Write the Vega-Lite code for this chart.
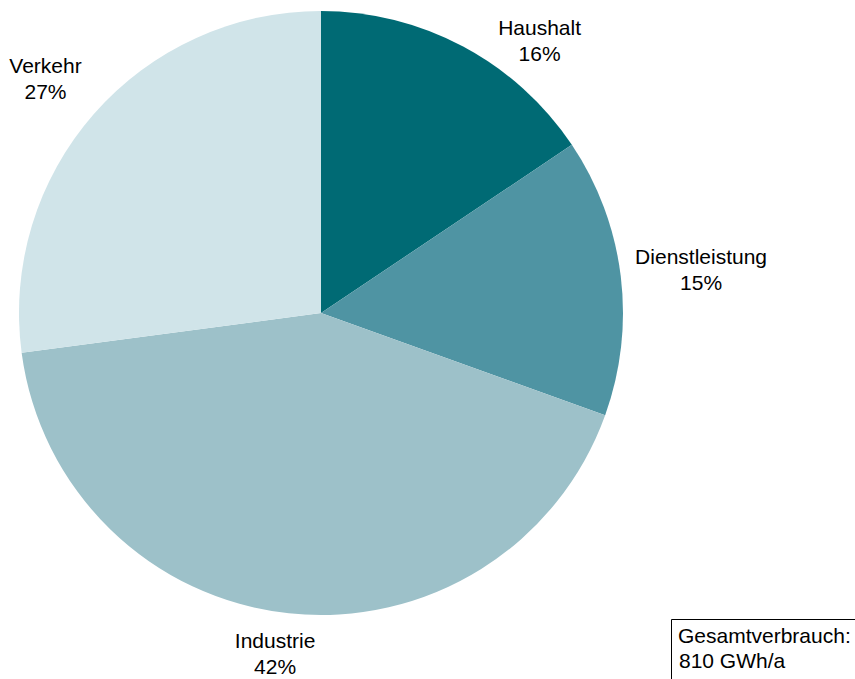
{
  "$schema": "https://vega.github.io/schema/vega-lite/v6.json",
  "width": 642,
  "height": 626,
  "autosize": "none",
  "padding": {"left": 0, "top": 0, "right": 213, "bottom": 53},
  "background": "white",
  "config": {"view": {"stroke": null}, "text": {"font": "Liberation Sans"}},
  "data": {
    "values": [
      {"category": "Haushalt", "value": 15.6, "order": 1},
      {"category": "Dienstleistung", "value": 14.9, "order": 2},
      {"category": "Industrie", "value": 42.4, "order": 3},
      {"category": "Verkehr", "value": 27.1, "order": 4}
    ]
  },
  "transform": [
    {"calculate": "datum.category + '\\n' + format(datum.value, '.0f') + '%'", "as": "label"}
  ],
  "encoding": {
    "theta": {"field": "value", "type": "quantitative", "stack": true, "scale": {"domain": [0, 100]}},
    "order": {"field": "order", "type": "quantitative", "sort": "ascending"}
  },
  "layer": [
    {
      "mark": {"type": "arc", "radius": 302, "strokeWidth": 0},
      "encoding": {
        "color": {
          "field": "category",
          "type": "nominal",
          "scale": {
            "domain": ["Haushalt", "Dienstleistung", "Industrie", "Verkehr"],
            "range": ["#006a74", "#4f94a3", "#9dc1c9", "#d0e4e9"]
          },
          "legend": null
        },
        "opacity": {
          "datum": "810 GWh/a",
          "type": "nominal",
          "scale": {"range": [1, 1]},
          "legend": {
            "orient": "none",
            "legendX": 671,
            "legendY": 619,
            "title": "Gesamtverbrauch:",
            "titleFont": "Liberation Sans",
            "titleFontSize": 21,
            "titleFontWeight": "normal",
            "titleColor": "black",
            "titlePadding": 4,
            "labelFont": "Liberation Sans",
            "labelFontSize": 21,
            "labelColor": "black",
            "labelOffset": -20,
            "symbolSize": 0,
            "symbolStrokeWidth": 0,
            "symbolOpacity": 0,
            "strokeColor": "black",
            "padding": 7
          }
        }
      }
    },
    {
      "mark": {"type": "text", "radius": 358, "fontSize": 21, "lineBreak": "\n", "lineHeight": 26, "color": "black", "align": "center", "baseline": "middle"},
      "encoding": {
        "theta": {"field": "value", "type": "quantitative", "stack": true, "bandPosition": 0.67},
        "text": {"condition": {"test": "datum.category === 'Haushalt'", "field": "label"}, "value": ""}
      }
    },
    {
      "mark": {"type": "text", "radius": 384, "fontSize": 21, "lineBreak": "\n", "lineHeight": 26, "color": "black", "align": "center", "baseline": "middle"},
      "encoding": {
        "theta": {"field": "value", "type": "quantitative", "stack": true, "bandPosition": 0.478},
        "text": {"condition": {"test": "datum.category === 'Dienstleistung'", "field": "label"}, "value": ""}
      }
    },
    {
      "mark": {"type": "text", "radius": 332, "fontSize": 21, "lineBreak": "\n", "lineHeight": 26, "color": "black", "align": "center", "baseline": "middle"},
      "encoding": {
        "theta": {"field": "value", "type": "quantitative", "stack": true, "bandPosition": 0.512},
        "text": {"condition": {"test": "datum.category === 'Industrie'", "field": "label"}, "value": ""}
      }
    },
    {
      "mark": {"type": "text", "radius": 369, "fontSize": 21, "lineBreak": "\n", "lineHeight": 26, "color": "black", "align": "center", "baseline": "middle"},
      "encoding": {
        "theta": {"field": "value", "type": "quantitative", "stack": true, "bandPosition": 0.505},
        "text": {"condition": {"test": "datum.category === 'Verkehr'", "field": "label"}, "value": ""}
      }
    }
  ]
}
